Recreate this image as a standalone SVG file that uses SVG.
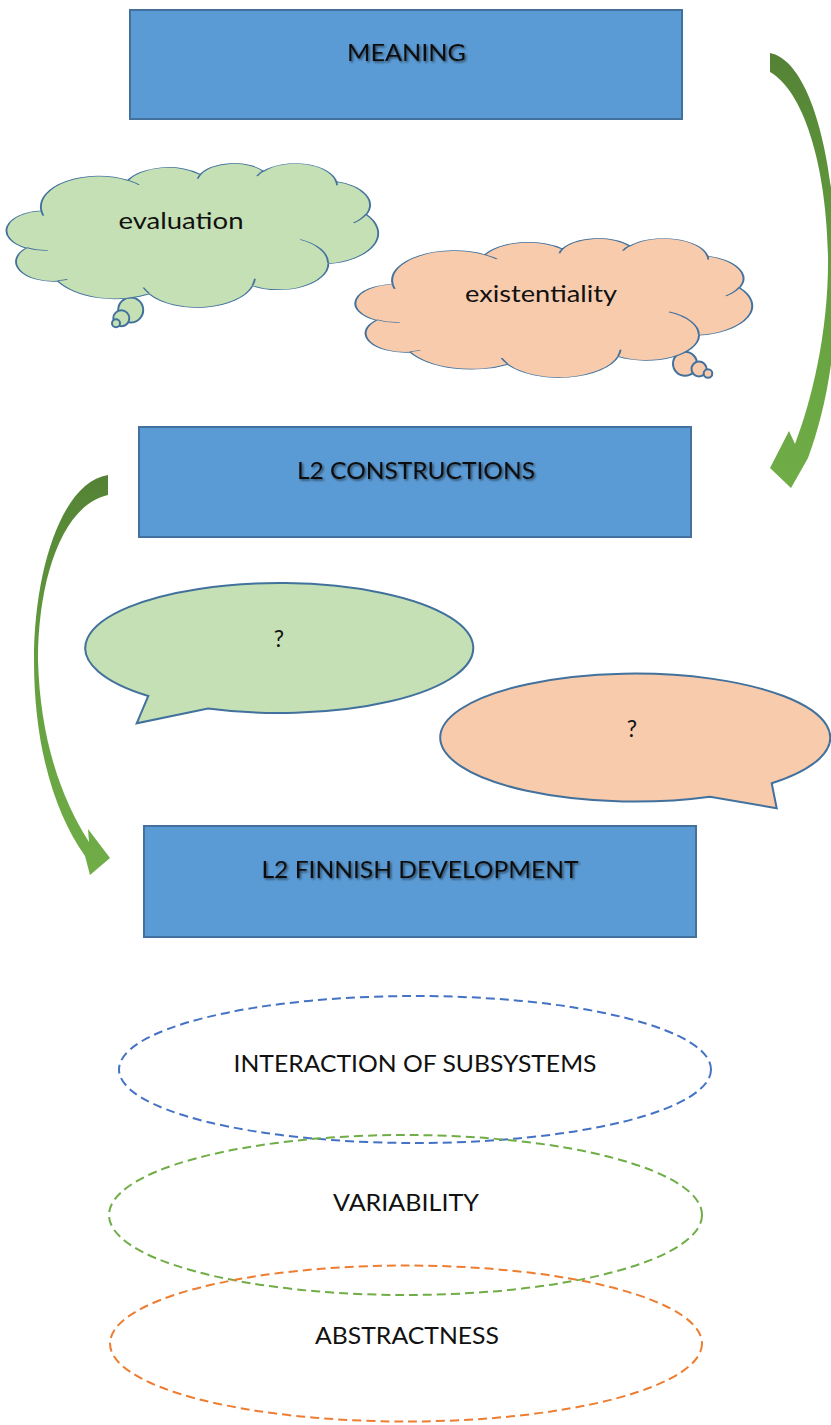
<svg xmlns="http://www.w3.org/2000/svg" width="831" height="1425" viewBox="0 0 831 1425">
  <defs>
    <style>
      .box { fill: #5B9BD5; stroke: #41719C; stroke-width: 2; }
      .lbl { font-family: Lato, "Liberation Sans", sans-serif; font-size: 23px; fill: #111; text-anchor: middle; }
      .lc { font-size: 24px; }
      .cloud { stroke: #41719C; stroke-width: 2.2; vector-effect: non-scaling-stroke; stroke-linejoin: round; }
      .inner { fill: none; stroke: #41719C; stroke-width: 2.2; vector-effect: non-scaling-stroke; }
      .bub { stroke: #41719C; stroke-width: 2; }
      .green { fill: #C5E0B4; }
      .orange { fill: #F8CBAD; }
      .ring { fill: none; stroke-width: 2; stroke-dasharray: 9 5; }
    </style>
    <filter id="shadow" x="-10%" y="-30%" width="120%" height="160%">
      <feDropShadow dx="1.5" dy="1.5" stdDeviation="1.2" flood-color="#000" flood-opacity="0.55"/>
    </filter>
    <linearGradient id="arrowFill" x1="0" y1="0" x2="0" y2="1">
      <stop offset="0" stop-color="#548235"/>
      <stop offset="0.5" stop-color="#64A03F"/>
      <stop offset="1" stop-color="#70AD47"/>
    </linearGradient>
    <!-- cloud outline in a 432 x 432 unit space -->
    <path id="cloudOutline" d="M 39,143.7 A 67.53 91.9 0 0 1 140.06,52.03 A 53.33 72.67 0 0 1 224.59,34.36 A 43.65 59.45 0 0 1 298.36,24.85 A 48.57 65.95 0 0 1 383.2,55.81 A 53.33 72.73 0 0 1 418.21,154.65 A 67.75 92.2 0 0 1 374.07,302.09 A 57.85 78.67 0 0 1 285.59,368.19 A 67.52 92.15 0 0 1 164.82,392.68 A 77.2 105.43 0 0 1 58.07,354.7 A 43.6 59.18 0 0 1 21.17,255.47 A 43.45 59.45 0 0 1 39,143.7 Z"/>
    <path id="cloudCreases" d="M 46.93,261.77 A 43.45 59.45 0 0 1 21.59,253.8 M 69.28,348.99 A 43.6 59.18 0 0 1 58.2,352.81 M 164.78,390.9 A 67.52 92.15 0 0 1 158.11,373.52 M 288.27,347.51 A 67.52 92.15 0 0 1 285.6,366.61 M 341.29,229.54 A 57.85 78.67 0 0 1 373.81,300.9 M 417.98,153.54 A 53.33 72.73 0 0 1 403.5,180.3 M 383.24,54.26 A 48.57 65.95 0 0 1 384.0,66.89 M 290.78,39.52 A 48.57 65.95 0 0 1 298.21,23.38 M 221.41,47.2 A 43.65 59.45 0 0 1 225.0,33.3 M 140,51.92 A 67.53 91.9 0 0 1 153.02,65.44 M 41.27,157.89 A 67.53 91.9 0 0 1 39.0,143.7"/>
  </defs>

  <rect width="831" height="1425" fill="#FFFFFF"/>

  <!-- curved arrows -->
  <g id="connectors">
    <path id="arrow-meaning-constructions" fill="url(#arrowFill)" d="M 770,53 C 806,60 832,140 836,250 C 840,340 826,410 808,458 L 791,488 L 770,468 L 789,431 L 795,444 C 812,400 829,330 828,255 C 826,160 802,90 770,72 Z"/>
    <path id="arrow-constructions-development" fill="url(#arrowFill)" d="M 108,475 C 62,482 34,570 34,660 C 34,750 56,815 85,856 L 90,875 L 110,858 L 88,829 L 89,842 C 62,800 40,740 38,660 C 38,580 62,505 108,495 Z"/>
  </g>

  <!-- main boxes -->
  <g id="meaning">
    <rect class="box" x="130" y="10" width="552" height="109"/>
    <text class="lbl" x="406.5" y="61" textLength="119" lengthAdjust="spacingAndGlyphs" filter="url(#shadow)">MEANING</text>
  </g>
  <g id="l2-constructions">
    <rect class="box" x="139" y="427" width="552" height="110"/>
    <text class="lbl" x="416" y="479" textLength="238" lengthAdjust="spacingAndGlyphs" filter="url(#shadow)">L2 CONSTRUCTIONS</text>
  </g>
  <g id="l2-finnish-development">
    <rect class="box" x="144" y="826" width="552" height="111"/>
    <text class="lbl" x="420" y="878" textLength="317" lengthAdjust="spacingAndGlyphs" filter="url(#shadow)">L2 FINNISH DEVELOPMENT</text>
  </g>

  <!-- thought clouds -->
  <g id="evaluation">
    <circle class="bub green" cx="130.7" cy="310" r="12.5"/>
    <circle class="bub green" cx="121.3" cy="318.3" r="8"/>
    <circle class="bub green" cx="116" cy="323.3" r="4"/>
    <g transform="translate(8,163) scale(0.8565,0.3333)">
      <use href="#cloudOutline" class="cloud green"/>
      <use href="#cloudCreases" class="inner"/>
    </g>
    <text class="lbl lc" x="181" y="229" textLength="125" lengthAdjust="spacingAndGlyphs">evaluation</text>
  </g>
  <g id="existentiality">
    <circle class="bub orange" cx="685" cy="363.7" r="12"/>
    <circle class="bub orange" cx="699" cy="369" r="7.5"/>
    <circle class="bub orange" cx="708" cy="373.5" r="4.3"/>
    <g transform="translate(357,238) scale(0.9144,0.3218)">
      <use href="#cloudOutline" class="cloud orange"/>
      <use href="#cloudCreases" class="inner"/>
    </g>
    <text class="lbl lc" x="541" y="301.5" textLength="152" lengthAdjust="spacingAndGlyphs">existentiality</text>
  </g>

  <!-- speech bubbles -->
  <g id="speech-green">
    <path class="bub green" d="M 148.3,696 A 194 65 0 1 1 208,708.5 L 136.7,723.3 Z"/>
    <text class="lbl" x="279" y="647">?</text>
  </g>
  <g id="speech-orange">
    <path class="bub orange" d="M 710,796.7 A 195 64 0 1 1 771.7,783.3 L 776.7,808.3 Z"/>
    <text class="lbl" x="632" y="737">?</text>
  </g>

  <!-- dashed property rings -->
  <g id="interaction-of-subsystems">
    <ellipse class="ring" cx="415" cy="1069.5" rx="296" ry="73.5" stroke="#4472C4"/>
    <text class="lbl" x="415" y="1071.5" textLength="363" lengthAdjust="spacingAndGlyphs">INTERACTION OF SUBSYSTEMS</text>
  </g>
  <g id="variability">
    <ellipse class="ring" cx="405.5" cy="1215" rx="296.5" ry="80" stroke="#70AD47"/>
    <text class="lbl" x="406" y="1211" textLength="146" lengthAdjust="spacingAndGlyphs">VARIABILITY</text>
  </g>
  <g id="abstractness">
    <ellipse class="ring" cx="406" cy="1343.5" rx="296" ry="78" stroke="#ED7D31"/>
    <text class="lbl" x="407" y="1344" textLength="184" lengthAdjust="spacingAndGlyphs">ABSTRACTNESS</text>
  </g>
</svg>
